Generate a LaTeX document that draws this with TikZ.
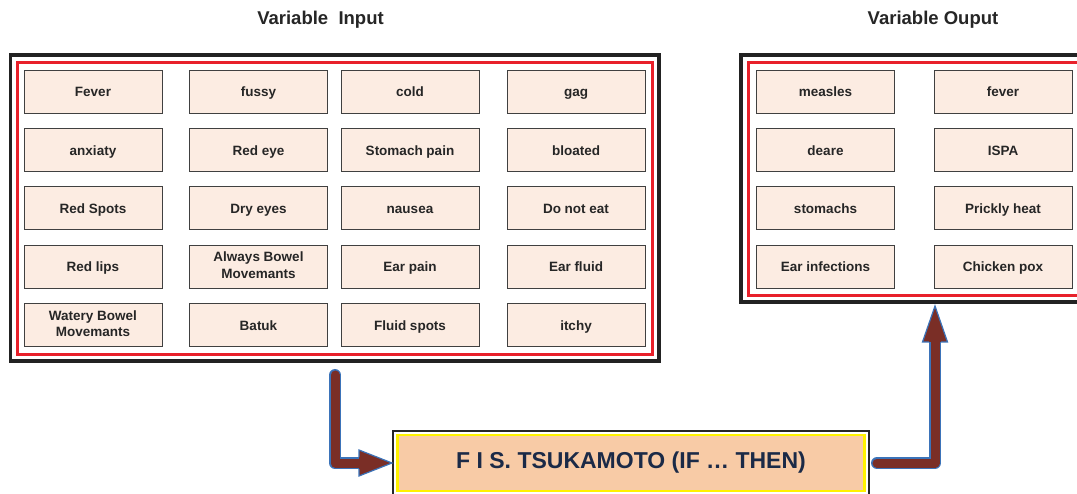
\documentclass[tikz,border=0pt]{standalone}
\usepackage{fontspec}
\setmainfont{Liberation Sans}
\usetikzlibrary{calc}
\definecolor{boxfill}{HTML}{FCECE2}
\definecolor{txt}{HTML}{262626}
\definecolor{frameblack}{HTML}{222222}
\definecolor{framered}{HTML}{E8202A}
\definecolor{fisfill}{HTML}{F8CBA6}
\definecolor{fisyellow}{HTML}{FFF200}
\definecolor{fistxt}{HTML}{1B2A47}
\definecolor{arrbrown}{HTML}{7A2E26}
\definecolor{arrblue}{HTML}{3B73B9}
\newcommand\mybstrut{\rule[-2.5pt]{0pt}{15.5pt}}
\begin{document}
\begin{tikzpicture}[x=1pt,y=-1pt,
  box/.style={draw=black!75, line width=0.9pt, fill=boxfill, minimum width=138pt, minimum height=43pt, inner sep=1pt, align=center, font=\bfseries\fontsize{13.5}{16.5}\selectfont, text=txt, execute at begin node=\mybstrut, execute at end node=\mybstrut},
  blackframe/.style={draw=frameblack, line width=3.5pt, outer sep=0pt, inner sep=0pt},
  redframe/.style={draw=framered, line width=3pt, outer sep=0pt, inner sep=0pt},
  title/.style={font=\bfseries\fontsize{18.5}{21}\selectfont, text=txt},
  shaftout/.style={draw=arrblue, line width=12pt, line cap=round, line join=round},
  shaftin/.style={draw=arrbrown, line width=9pt, line cap=round, line join=round},
  headedge/.style={draw=arrblue, line width=1.2pt, line join=miter}
]
\useasboundingbox (0,0) rectangle (1077,494);
\begin{scope}
\clip (0,0) rectangle (1077,494);
\fill[white] (0,0) rectangle (1077,494);

% titles
\node[title] (tin) at (320.5,19.5) {Variable\ \ Input};
\node[title] (tout) at (933,19.5) {Variable Ouput};

% frames
\node[blackframe, minimum width=648.5pt, minimum height=306pt] (outL) at (334.75,208) {};
\node[redframe, minimum width=635pt, minimum height=292pt] (redL) at (334.5,209) {};
\node[blackframe, minimum width=344pt, minimum height=247pt] (outR) at (913,178.5) {};
\node[redframe, minimum width=334pt, minimum height=233pt] (redR) at (915,179.5) {};

% input boxes
\node[box] (i11) at (93,91.5) {Fever};
\node[box] (i12) at (258.5,91.5) {fussy};
\node[box] (i13) at (410,91.5) {cold};
\node[box] (i14) at (576,91.5) {gag};
\node[box] (i21) at (93,150) {anxiaty};
\node[box] (i22) at (258.5,150) {Red eye};
\node[box] (i23) at (410,150) {Stomach pain};
\node[box] (i24) at (576,150) {bloated};
\node[box] (i31) at (93,208) {Red Spots};
\node[box] (i32) at (258.5,208) {Dry eyes};
\node[box] (i33) at (410,208) {nausea};
\node[box] (i34) at (576,208) {Do not eat};
\node[box] (i41) at (93,266.5) {Red lips};
\node[box] (i42) at (258.5,266.5) {Always Bowel\\Movemants};
\node[box] (i43) at (410,266.5) {Ear pain};
\node[box] (i44) at (576,266.5) {Ear fluid};
\node[box] (i51) at (93,325) {Watery Bowel\\Movemants};
\node[box] (i52) at (258.5,325) {Batuk};
\node[box] (i53) at (410,325) {Fluid spots};
\node[box] (i54) at (576,325) {itchy};

% output boxes
\node[box] (o11) at (825.5,91.5) {measles};
\node[box] (o12) at (1003,91.5) {fever};
\node[box] (o21) at (825.5,150) {deare};
\node[box] (o22) at (1003,150) {ISPA};
\node[box] (o31) at (825.5,208) {stomachs};
\node[box] (o32) at (1003,208) {Prickly heat};
\node[box] (o41) at (825.5,266.5) {Ear infections};
\node[box] (o42) at (1003,266.5) {Chicken pox};

% FIS box
\node[draw=black!85, line width=1.2pt, fill=white, minimum width=476pt, minimum height=64pt, outer sep=0pt] (fisO) at (631,463) {};
\node[draw=fisyellow, line width=2.5pt, fill=fisfill, minimum width=467pt, minimum height=56pt, text=fistxt, font=\bfseries\fontsize{23}{26}\selectfont] (fis) at (631,463) {F I S. TSUKAMOTO (IF \dots\ THEN)};

% arrow 1: input -> FIS
\coordinate (a1s) at ($(outL.south)+(0.25,14)$);
\coordinate (a1t) at ($(fisO.west)+(-1,0)$);
\coordinate (a1b) at ($(a1t)+(-33,0)$);
\draw[shaftout] (a1s) |- (a1b);
\draw[shaftin] (a1s) |- (a1b);
\fill[arrbrown] ($(a1b)+(0,-13)$) -- (a1t) -- ($(a1b)+(0,13)$) -- cycle;
\draw[headedge] ($(a1b)+(0,-6)$) -- ($(a1b)+(0,-13)$) -- (a1t) -- ($(a1b)+(0,13)$) -- ($(a1b)+(0,6)$);

% arrow 2: FIS -> output
\coordinate (a2s) at ($(fisO.east)+(8,0)$);
\coordinate (a2t) at ($(outR.south -| 935,0)+(0,4)$);
\coordinate (a2b) at ($(a2t)+(0,36)$);
\draw[shaftout] (a2s) -| (a2b);
\draw[shaftin] (a2s) -| (a2b);
\fill[arrbrown] ($(a2b)+(-12.5,0)$) -- (a2t) -- ($(a2b)+(12.5,0)$) -- cycle;
\draw[headedge] ($(a2b)+(-6,0)$) -- ($(a2b)+(-12.5,0)$) -- (a2t) -- ($(a2b)+(12.5,0)$) -- ($(a2b)+(6,0)$);
\end{scope}
\end{tikzpicture}
\end{document}
